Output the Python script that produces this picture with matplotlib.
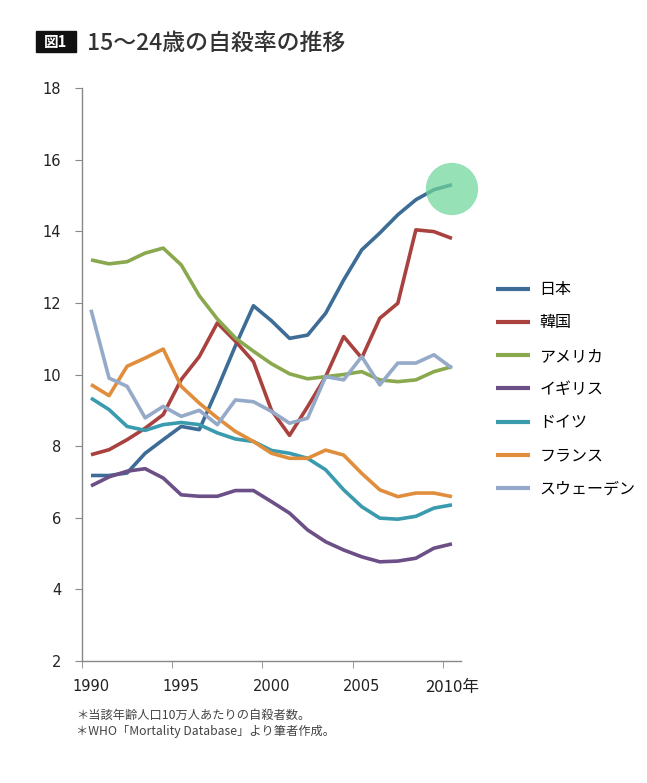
import matplotlib.pyplot as plt
from matplotlib.patches import Ellipse, Rectangle

plt.rcParams['font.family'] = ['Noto Sans CJK JP', 'DejaVu Sans']

years = list(range(1990, 2011))

japan = [7.18, 7.18, 7.25, 7.8, 8.18, 8.55, 8.46, 9.6, 10.8, 11.92, 11.5,
         11.01, 11.1, 11.71, 12.64, 13.48, 13.95, 14.46, 14.88, 15.16, 15.3]
korea = [7.76, 7.9, 8.18, 8.5, 8.88, 9.86, 10.5, 11.44, 10.93, 10.36, 9.0,
         8.3, 9.1, 9.94, 11.06, 10.46, 11.57, 11.99, 14.04, 13.99, 13.8]
usa = [13.2, 13.09, 13.15, 13.39, 13.53, 13.06, 12.2, 11.55, 11.02, 10.65, 10.3,
       10.02, 9.88, 9.94, 10.0, 10.08, 9.85, 9.8, 9.85, 10.08, 10.22]
uk = [6.89, 7.14, 7.3, 7.37, 7.11, 6.64, 6.6, 6.6, 6.76, 6.76, 6.45,
      6.13, 5.66, 5.33, 5.1, 4.91, 4.77, 4.79, 4.87, 5.15, 5.27]
germany = [9.34, 9.02, 8.55, 8.44, 8.6, 8.66, 8.6, 8.37, 8.2, 8.13, 7.88,
           7.8, 7.66, 7.34, 6.78, 6.31, 5.99, 5.96, 6.04, 6.27, 6.36]
france = [9.72, 9.41, 10.23, 10.46, 10.71, 9.67, 9.2, 8.79, 8.41, 8.13, 7.8,
          7.66, 7.66, 7.89, 7.75, 7.24, 6.78, 6.59, 6.69, 6.69, 6.59]
sweden = [11.81, 9.9, 9.67, 8.79, 9.11, 8.83, 9.0, 8.6, 9.29, 9.24, 8.97,
          8.64, 8.78, 9.94, 9.85, 10.5, 9.71, 10.32, 10.32, 10.55, 10.18]

names = ['日本', '韓国', 'アメリカ', 'イギリス', 'ドイツ', 'フランス', 'スウェーデン']
series = [japan, korea, usa, uk, germany, france, sweden]
colors = ['#3d6c96', '#a9423f', '#8aa84e', '#6b4f86', '#3a9aae', '#e08e3c', '#94aac8']

tick_labels = ['1990', '1995', '2000', '2005', '2010年']
yticks = [2, 4, 6, 8, 10, 12, 14, 16, 18]

fig = plt.figure(figsize=(6.47, 7.83), dpi=100)
ax = fig.add_axes([0.1267, 0.1558, 0.5858, 0.7318])

for name, vals, c in zip(names, series, colors):
    ax.plot(years, vals, color=c, lw=2.6, label=name, solid_capstyle='butt', zorder=3)

# highlight circle on latest Japan value
ax.add_patch(Ellipse((years[-1], japan[-1] - 0.12), 2.9, 1.46,
                     color='#6fd69a', alpha=0.72, lw=0, zorder=4, clip_on=False))

ax.set_xlim(1989.5, 2010.5)
ax.set_ylim(2, 18)
ax.set_yticks(yticks)
ax.set_xticks(years[::5])
ax.set_xticklabels(tick_labels)
ax.set_xticks([1989.5, 1994.5, 1999.5, 2004.5, 2009.5], minor=True)
ax.tick_params(axis='x', which='major', length=0, pad=13, labelsize=10.5, labelcolor='#222222')
ax.tick_params(axis='x', which='minor', length=5, color='#888888', direction='out')
ax.tick_params(axis='y', length=5, color='#888888', pad=10, labelsize=10.5, labelcolor='#222222')
for lab in ax.get_yticklabels() + ax.get_xticklabels():
    lab.set_family(['DejaVu Sans', 'Noto Sans CJK JP'])
ax.get_xticklabels()[-1].set_family(['Noto Sans CJK JP'])
ax.get_xticklabels()[-1].set_fontsize(12)

for s in ['top', 'right']:
    ax.spines[s].set_visible(False)
for s in ['left', 'bottom']:
    ax.spines[s].set_color('#888888')
    ax.spines[s].set_linewidth(1)

leg = ax.legend(loc='upper left', bbox_to_anchor=(1.055, 0.688), frameon=False,
                fontsize=11.5, handlelength=2.1, handletextpad=0.6, labelspacing=1.02)
for line in leg.get_lines():
    line.set_linewidth(3)

# title
fig.patches.append(Rectangle((0.056, 0.933), 0.061, 0.027, transform=fig.transFigure,
                             color='#111111', figure=fig))
fig.text(0.086, 0.946, '図1', color='white', fontsize=10.5, fontweight='bold',
         ha='center', va='center')
fig.text(0.134, 0.945, '15～24歳の自殺率の推移', color='#333333', fontsize=16.5,
         fontweight='medium', va='center')

fig.text(0.118, 0.087, '＊当該年齢人口10万人あたりの自殺者数。', fontsize=8.8,
         color='#444444', va='center')
fig.text(0.118, 0.066, '＊WHO「Mortality Database」より筆者作成。', fontsize=8.8,
         color='#444444', va='center')

fig.savefig('out.png', dpi=100, facecolor='white')
